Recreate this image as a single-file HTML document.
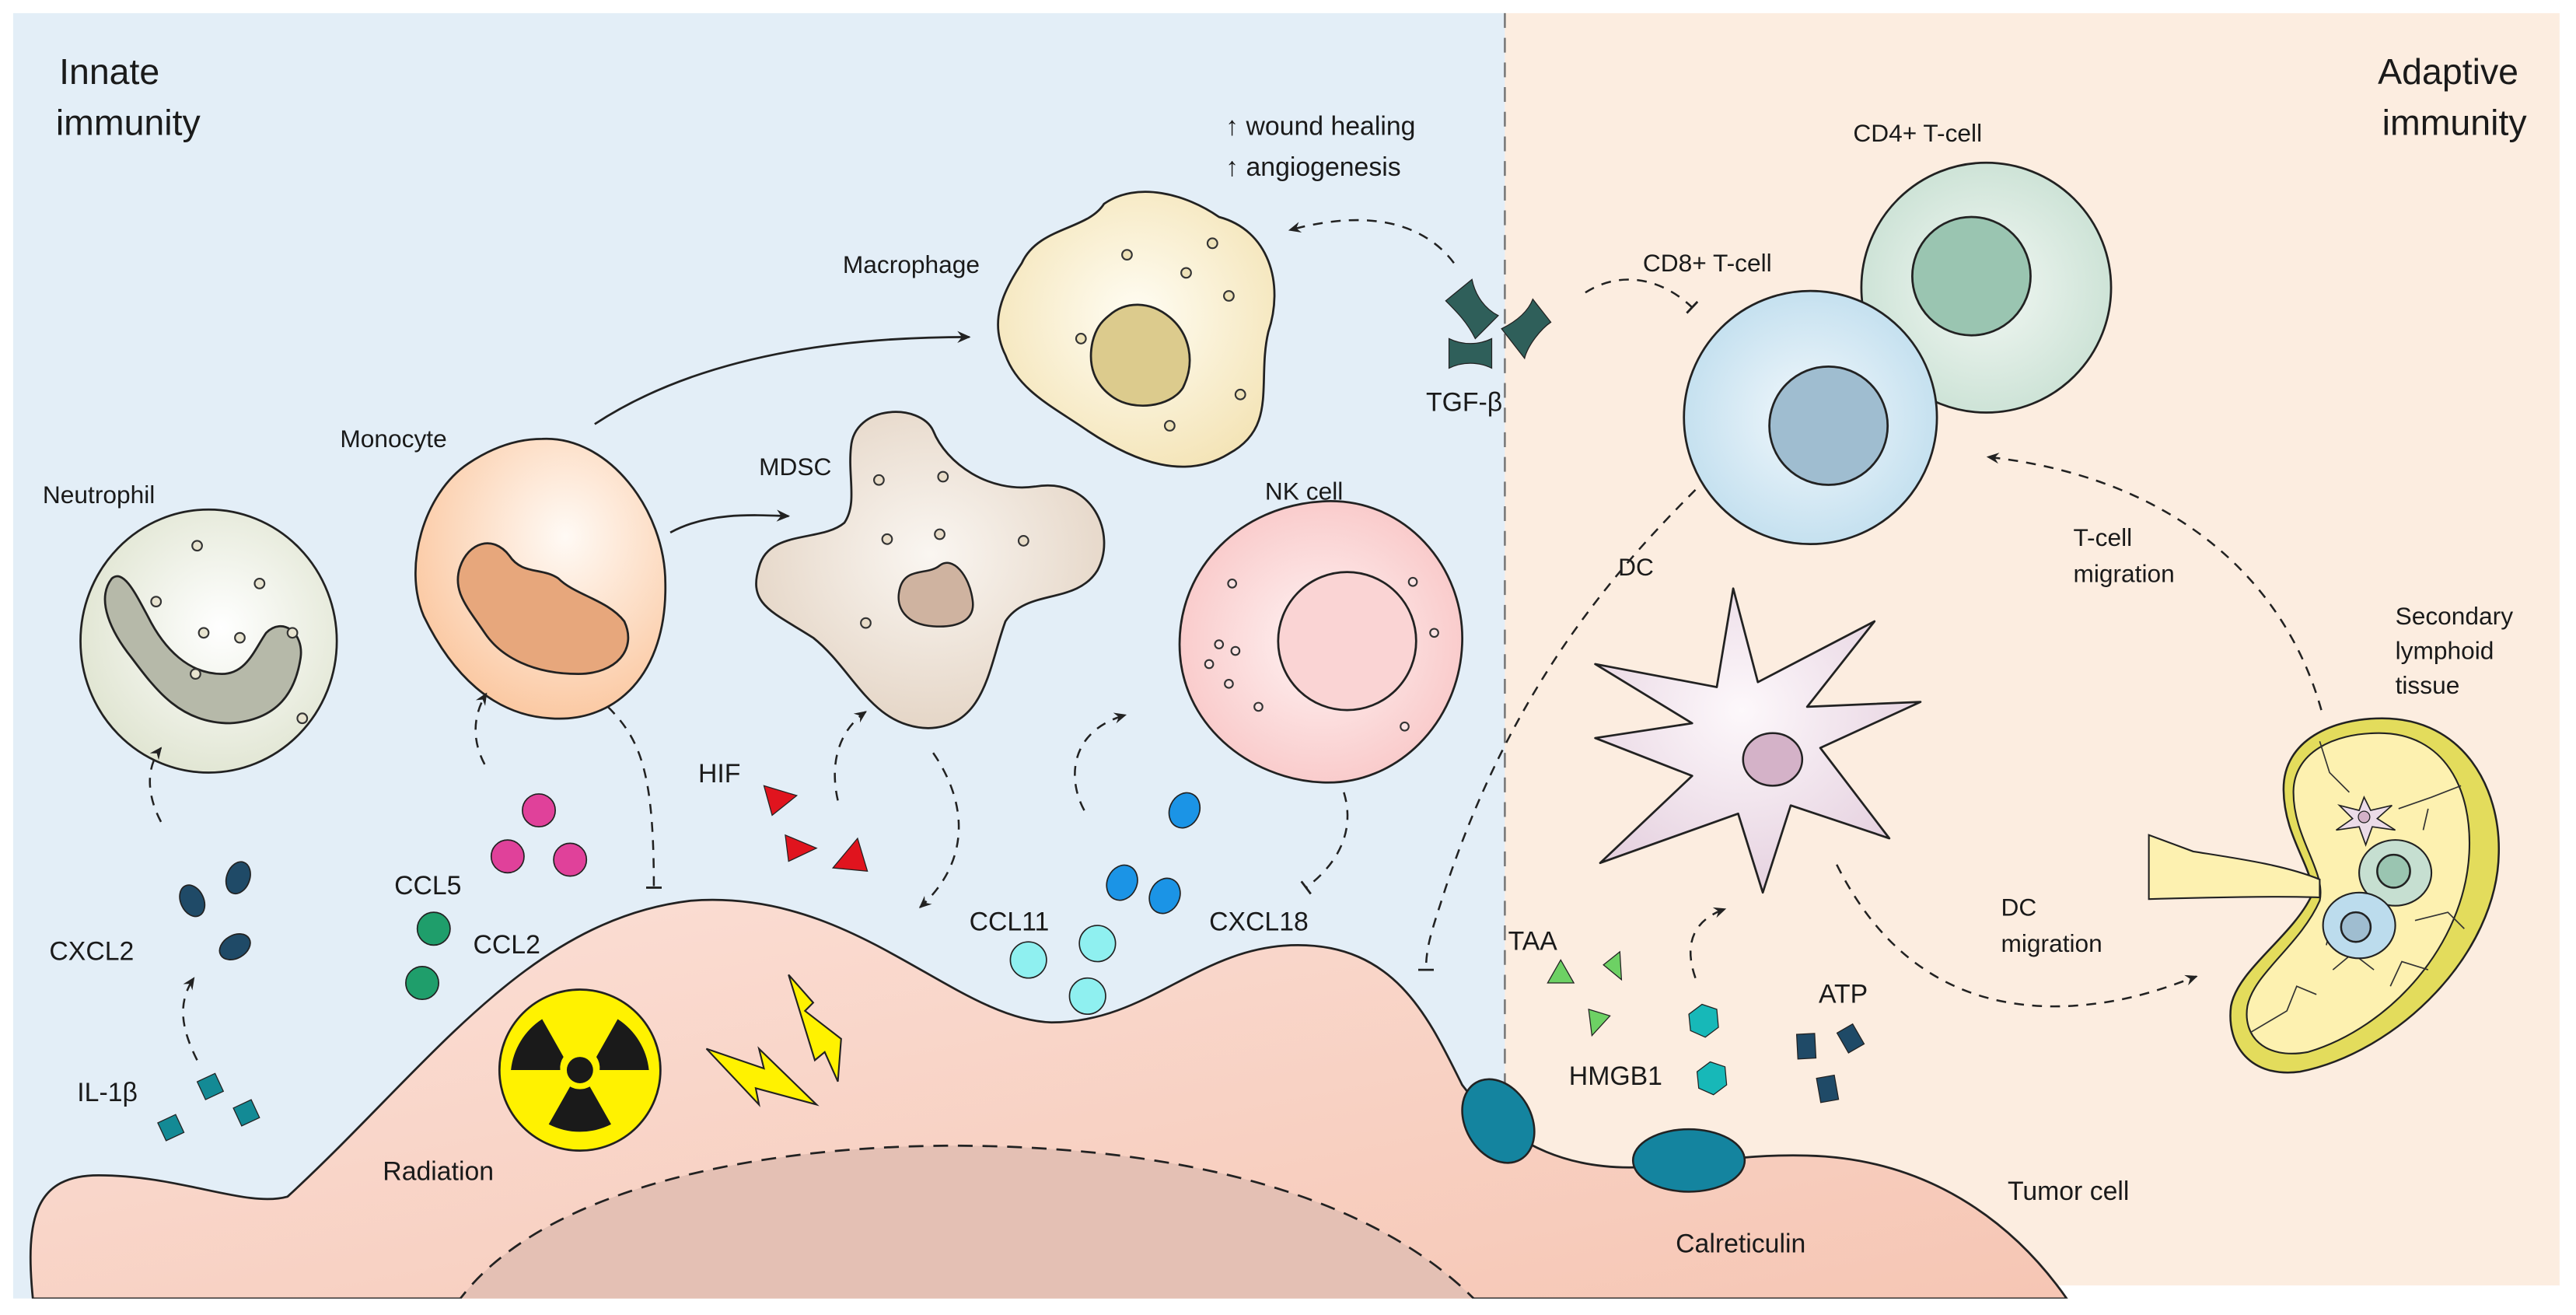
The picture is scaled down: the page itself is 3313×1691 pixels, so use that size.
<!DOCTYPE html>
<html><head><meta charset="utf-8"><style>
html,body{margin:0;padding:0;background:#fff;}
svg{display:block;}
text{font-family:"Liberation Sans",sans-serif;fill:#1a1a1a;}
</style></head><body>
<svg width="3313" height="1691" viewBox="0 0 1568 800" preserveAspectRatio="none" xmlns="http://www.w3.org/2000/svg">
<defs>
<radialGradient id="gNeu" cx="0.55" cy="0.45" r="0.6"><stop offset="0" stop-color="#ffffff"/><stop offset="1" stop-color="#dfe4d0"/></radialGradient>
<radialGradient id="gMono" cx="0.6" cy="0.35" r="0.65"><stop offset="0" stop-color="#fffaf5"/><stop offset="1" stop-color="#fbc9a3"/></radialGradient>
<radialGradient id="gMdsc" cx="0.5" cy="0.45" r="0.6"><stop offset="0" stop-color="#faf6f1"/><stop offset="1" stop-color="#e3d3c3"/></radialGradient>
<radialGradient id="gMac" cx="0.5" cy="0.45" r="0.6"><stop offset="0" stop-color="#fffdf3"/><stop offset="1" stop-color="#f4e4b7"/></radialGradient>
<radialGradient id="gNK" cx="0.5" cy="0.5" r="0.6"><stop offset="0" stop-color="#fff3f3"/><stop offset="1" stop-color="#f8c4c4"/></radialGradient>
<radialGradient id="gCD4" cx="0.5" cy="0.5" r="0.6"><stop offset="0" stop-color="#f3f8f4"/><stop offset="1" stop-color="#c6dfd1"/></radialGradient>
<radialGradient id="gCD8" cx="0.5" cy="0.5" r="0.6"><stop offset="0" stop-color="#f2f8fc"/><stop offset="1" stop-color="#bcdced"/></radialGradient>
<radialGradient id="gDC" cx="0.45" cy="0.4" r="0.6"><stop offset="0" stop-color="#fdf8fb"/><stop offset="1" stop-color="#e6d2e0"/></radialGradient>
<linearGradient id="gTum" x1="0" y1="0" x2="1" y2="1"><stop offset="0" stop-color="#fbe0d7"/><stop offset="1" stop-color="#f6c6b4"/></linearGradient>
<marker id="ah" viewBox="0 0 10 10" refX="8" refY="5" markerWidth="7" markerHeight="7" orient="auto"><path d="M0,1 L9,5 L0,9 L3,5 Z" fill="#222"/></marker>
<marker id="tb" viewBox="0 0 10 10" refX="5" refY="5" markerWidth="8" markerHeight="8" orient="auto"><path d="M5,0 L5,10" stroke="#222" stroke-width="1.4"/></marker>
</defs>

<rect x="8" y="8" width="908" height="782" fill="#e3eef7"/>
<rect x="916" y="8" width="642" height="774" fill="#fcede0"/>
<line x1="916" y1="8" x2="916" y2="660" stroke="#777" stroke-width="1.2" stroke-dasharray="9,6"/>

<path d="M 20 790 C 15 740, 22 715, 60 715 C 110 715, 150 735, 175 728 C 260 650, 320 560, 420 548 C 520 540, 580 620, 640 622 C 700 622, 730 575, 790 575 C 850 575, 870 620, 890 660 C 920 700, 960 712, 1000 710 C 1040 708, 1060 702, 1100 703 C 1180 705, 1230 750, 1258 790 Z" fill="url(#gTum)" stroke="#222" stroke-width="1.3"/>
<path d="M 278 793 C 330 720, 470 697, 580 697 C 700 697, 830 720, 900 793 Z" fill="#e4c0b4"/>
<path d="M 278 793 C 330 720, 470 697, 580 697 C 700 697, 830 720, 900 793" fill="none" stroke="#222" stroke-width="1.3" stroke-dasharray="9,6"/>
<rect x="0" y="790" width="1568" height="10" fill="#fff"/>

<ellipse cx="912" cy="682" rx="20" ry="27" transform="rotate(-30 912 682)" fill="#14849f" stroke="#222" stroke-width="1.2"/>
<ellipse cx="1028" cy="706" rx="34" ry="19" fill="#14849f" stroke="#222" stroke-width="1.2"/>

<text x="36" y="51" font-size="22">Innate</text>
<text x="34" y="82" font-size="22">immunity</text>
<text x="1533" y="51" font-size="22" text-anchor="end">Adaptive</text>
<text x="1538" y="82" font-size="22" text-anchor="end">immunity</text>

<text x="746" y="82" font-size="16">↑ wound healing</text>
<text x="746" y="107" font-size="16">↑ angiogenesis</text>

<text x="26" y="306" font-size="15">Neutrophil</text>
<ellipse cx="127" cy="390" rx="78" ry="80" fill="url(#gNeu)" stroke="#222" stroke-width="1.3"/>
<path d="M 68 352 C 58 365, 68 385, 80 400 C 95 420, 110 440, 140 440 C 170 438, 180 420, 183 400 C 185 385, 172 375, 162 385 C 155 395, 150 410, 135 410 C 115 410, 100 395, 90 375 C 82 360, 75 346, 68 352 Z" fill="#b6b9a9" stroke="#222" stroke-width="1.3"/>
<g fill="#e8e4d0" stroke="#333" stroke-width="1"><circle cx="120" cy="332" r="3"/><circle cx="158" cy="355" r="3"/><circle cx="95" cy="366" r="3"/><circle cx="124" cy="385" r="3"/><circle cx="146" cy="388" r="3"/><circle cx="178" cy="385" r="3"/><circle cx="119" cy="410" r="3"/><circle cx="184" cy="437" r="3"/></g>

<text x="207" y="272" font-size="15">Monocyte</text>
<path d="M 330 267 C 370 265, 405 310, 405 355 C 406 410, 375 440, 335 437 C 300 435, 275 410, 258 375 C 245 345, 258 300, 285 282 C 300 272, 315 267, 330 267 Z" fill="url(#gMono)" stroke="#222" stroke-width="1.3"/>
<path d="M 280 345 C 285 330, 300 325, 310 338 C 318 350, 330 345, 340 352 C 350 362, 370 365, 380 378 C 388 395, 375 410, 352 410 C 325 410, 305 400, 295 385 C 285 370, 275 360, 280 345 Z" fill="#e7a77c" stroke="#222" stroke-width="1.3"/>

<text x="462" y="289" font-size="15">MDSC</text>
<path d="M 518 272 C 520 246, 560 245, 568 262 C 576 282, 602 300, 630 296 C 665 290, 680 325, 668 347 C 655 368, 625 358, 612 378 C 602 405, 600 442, 565 443 C 530 442, 520 408, 495 388 C 470 372, 455 368, 462 345 C 468 322, 500 330, 514 318 C 522 306, 516 290, 518 272 Z" fill="url(#gMdsc)" stroke="#222" stroke-width="1.3"/>
<path d="M 548 357 C 552 345, 565 350, 572 344 C 580 338, 590 350, 592 365 C 594 378, 582 382, 568 381 C 552 380, 544 370, 548 357 Z" fill="#cfb3a0" stroke="#222" stroke-width="1.2"/>
<g fill="#e8dcc8" stroke="#333" stroke-width="1"><circle cx="535" cy="292" r="3"/><circle cx="574" cy="290" r="3"/><circle cx="540" cy="328" r="3"/><circle cx="572" cy="325" r="3"/><circle cx="623" cy="329" r="3"/><circle cx="527" cy="379" r="3"/></g>

<text x="513" y="166" font-size="15">Macrophage</text>
<path d="M 622 160 C 632 138, 662 140, 672 124 C 692 110, 722 118, 742 132 C 772 140, 782 172, 772 202 C 765 232, 778 260, 748 276 C 722 292, 692 282, 662 262 C 642 248, 620 238, 612 216 C 602 196, 610 178, 622 160 Z" fill="url(#gMac)" stroke="#222" stroke-width="1.3"/>
<path d="M 675 192 C 685 183, 700 183, 712 193 C 724 203, 728 220, 720 236 C 712 248, 690 250, 678 242 C 666 234, 662 222, 665 208 C 667 200, 670 196, 675 192 Z" fill="#dccb8d" stroke="#222" stroke-width="1.3"/>
<g fill="#eee2b8" stroke="#333" stroke-width="1"><circle cx="686" cy="155" r="3"/><circle cx="738" cy="148" r="3"/><circle cx="722" cy="166" r="3"/><circle cx="748" cy="180" r="3"/><circle cx="658" cy="206" r="3"/><circle cx="755" cy="240" r="3"/><circle cx="712" cy="259" r="3"/></g>

<text x="770" y="304" font-size="15">NK cell</text>
<path d="M 805 305 C 855 302, 892 345, 890 392 C 888 440, 850 478, 805 476 C 760 474, 718 440, 718 392 C 718 345, 755 308, 805 305 Z" fill="url(#gNK)" stroke="#222" stroke-width="1.3"/>
<circle cx="820" cy="390" r="42" fill="#fad4d4" stroke="#222" stroke-width="1.3"/>
<g fill="#fbe3e3" stroke="#333" stroke-width="1"><circle cx="750" cy="355" r="2.5"/><circle cx="742" cy="392" r="2.5"/><circle cx="736" cy="404" r="2.5"/><circle cx="752" cy="396" r="2.5"/><circle cx="748" cy="416" r="2.5"/><circle cx="766" cy="430" r="2.5"/><circle cx="860" cy="354" r="2.5"/><circle cx="873" cy="385" r="2.5"/><circle cx="855" cy="442" r="2.5"/></g>

<text x="1128" y="86" font-size="15">CD4+ T-cell</text>
<circle cx="1209" cy="175" r="76" fill="url(#gCD4)" stroke="#222" stroke-width="1.3"/>
<circle cx="1200" cy="168" r="36" fill="#9ac5b1" stroke="#222" stroke-width="1.3"/>
<text x="1000" y="165" font-size="15">CD8+ T-cell</text>
<circle cx="1102" cy="254" r="77" fill="url(#gCD8)" stroke="#222" stroke-width="1.3"/>
<circle cx="1113" cy="259" r="36" fill="#9fbdd0" stroke="#222" stroke-width="1.3"/>

<text x="985" y="350" font-size="15">DC</text>
<path d="M 1055 358 L 1070 415 L 1141 378 L 1100 430 L 1169 427 L 1108 455 L 1150 510 L 1090 490 L 1073 543 L 1058 495 L 974 525 L 1030 472 L 971 449 L 1030 440 L 971 404 L 1045 418 Z" fill="url(#gDC)" stroke="#222" stroke-width="1.3" stroke-linejoin="round"/>
<ellipse cx="1079" cy="462" rx="18" ry="16" fill="#d4b2c8" stroke="#222" stroke-width="1.2"/>

<!-- Lymph node -->
<text x="1458" y="380" font-size="15">Secondary</text>
<text x="1458" y="401" font-size="15">lymphoid</text>
<text x="1458" y="422" font-size="15">tissue</text>
<path d="M 1390 480 C 1390 450, 1420 437, 1450 437 C 1500 437, 1522 480, 1521 519 C 1520 580, 1460 640, 1400 652 C 1370 656, 1355 636, 1358 612 C 1362 590, 1395 570, 1407 545 C 1410 530, 1390 510, 1390 480 Z" fill="#e3dc5c" stroke="#222" stroke-width="1.2"/>
<path d="M 1396 482 C 1396 458, 1420 446, 1448 446 C 1488 446, 1505 480, 1503 519 C 1500 575, 1455 625, 1405 640 C 1378 645, 1365 630, 1368 612 C 1372 592, 1400 575, 1412 548 C 1416 530, 1396 510, 1396 482 Z" fill="#fdf1b0" stroke="#222" stroke-width="1"/>
<path d="M 1308 508 L 1335 518 C 1360 522, 1390 526, 1412 535 L 1412 546 C 1390 545, 1340 546, 1308 547 Z" fill="#fdf1b0" stroke="#222" stroke-width="1"/>
<g fill="none" stroke="#333" stroke-width="0.8"><path d="M1412 451 L1418 470 L1430 482"/><path d="M1460 492 L1480 485 L1498 478"/><path d="M1478 492 L1475 505"/><path d="M1420 590 L1432 580 L1445 590"/><path d="M1370 628 L1392 615 L1398 600 L1410 605"/><path d="M1455 600 L1462 585 L1478 590"/><path d="M1470 560 L1490 555 L1500 565"/><path d="M1420 560 L1416 575"/></g>
<path d="M1439 485 L1443 493 L1456 490 L1447 498 L1458 505 L1444 503 L1440 514 L1436 503 L1422 505 L1432 498 L1424 490 L1436 493 Z" fill="#ecdce8" stroke="#222" stroke-width="0.8"/>
<circle cx="1439" cy="497" r="3.5" fill="#d4b2c8" stroke="#222" stroke-width="0.6"/>
<ellipse cx="1458" cy="531" rx="22" ry="20" fill="#c6dfd1" stroke="#222" stroke-width="1"/>
<circle cx="1457" cy="530" r="10" fill="#9ac5b1" stroke="#222" stroke-width="1.2"/>
<ellipse cx="1436" cy="563" rx="22" ry="20" fill="#bcdced" stroke="#222" stroke-width="1"/>
<circle cx="1434" cy="564" r="9" fill="#9fbdd0" stroke="#222" stroke-width="1.2"/>

<path d="M 362 258 C 420 220, 500 205, 590 205" fill="none" stroke="#222" stroke-width="1.3" marker-end="url(#ah)"/>
<path d="M 408 324 C 430 312, 455 313, 480 314" fill="none" stroke="#222" stroke-width="1.3" marker-end="url(#ah)"/>

<g fill="none" stroke="#222" stroke-width="1.2" stroke-dasharray="6,5">
<path d="M 98 500 C 90 485, 88 468, 98 455" marker-end="url(#ah)"/>
<path d="M 120 645 C 110 625, 108 610, 118 595" marker-end="url(#ah)"/>
<path d="M 295 465 C 287 450, 288 435, 296 422" marker-end="url(#ah)"/>
<path d="M 370 430 C 390 450, 398 470, 398 540" marker-end="url(#tb)"/>
<path d="M 510 487 C 505 465, 510 445, 527 433" marker-end="url(#ah)"/>
<path d="M 568 458 C 590 490, 590 525, 560 552" marker-end="url(#ah)"/>
<path d="M 660 493 C 650 475, 650 445, 685 435" marker-end="url(#ah)"/>
<path d="M 818 482 C 825 505, 815 525, 795 540" marker-end="url(#tb)"/>
<path d="M 885 160 C 870 140, 840 125, 785 140" marker-end="url(#ah)"/>
<path d="M 965 178 C 985 165, 1010 168, 1030 187" marker-end="url(#tb)"/>
<path d="M 1032 298 C 980 350, 920 420, 880 540 C 872 565, 868 575, 868 590" marker-end="url(#tb)"/>
<path d="M 1032 595 C 1025 575, 1030 560, 1050 553" marker-end="url(#ah)"/>
<path d="M 1413 432 C 1390 350, 1320 290, 1210 278" marker-end="url(#ah)"/>
<path d="M 1118 526 C 1150 590, 1200 615, 1260 612 C 1295 610, 1318 601, 1337 594" marker-end="url(#ah)"/>
</g>

<text x="1262" y="332" font-size="15">T-cell</text>
<text x="1262" y="354" font-size="15">migration</text>
<text x="1218" y="557" font-size="15">DC</text>
<text x="1218" y="579" font-size="15">migration</text>

<g fill="#2f5f5a" stroke="#222" stroke-width="0.6">
<path d="M 880 183 L 896 170 C 898 180, 904 188, 912 192 L 898 206 C 893 196, 887 190, 880 183 Z"/>
<path d="M 914 200 C 922 196, 930 190, 933 182 L 944 196 C 938 200, 930 210, 928 218 Z"/>
<path d="M 882 206 C 890 210, 900 210, 908 206 L 908 224 C 900 220, 890 220, 882 224 Z"/>
</g>
<text x="868" y="250" font-size="16">TGF-β</text>

<text x="30" y="584" font-size="16">CXCL2</text>
<g fill="#1f4a67" stroke="#222" stroke-width="0.8">
<ellipse cx="117" cy="548" rx="7" ry="10" transform="rotate(-25 117 548)"/>
<ellipse cx="145" cy="534" rx="7" ry="10" transform="rotate(20 145 534)"/>
<ellipse cx="143" cy="576" rx="7" ry="10" transform="rotate(60 143 576)"/>
</g>
<text x="47" y="670" font-size="16">IL-1β</text>
<g fill="#138a95" stroke="#222" stroke-width="0.6">
<rect x="98" y="680" width="12" height="12" transform="rotate(-25 104 686)"/>
<rect x="122" y="655" width="12" height="12" transform="rotate(-25 128 661)"/>
<rect x="144" y="671" width="12" height="12" transform="rotate(-25 150 677)"/>
</g>
<text x="240" y="544" font-size="16">CCL5</text>
<text x="288" y="580" font-size="16">CCL2</text>
<g stroke="#222" stroke-width="0.8">
<circle cx="264" cy="565" r="10" fill="#1f9e6b"/><circle cx="257" cy="598" r="10" fill="#1f9e6b"/>
<circle cx="328" cy="493" r="10" fill="#e0419a"/><circle cx="309" cy="521" r="10" fill="#e0419a"/><circle cx="347" cy="523" r="10" fill="#e0419a"/>
</g>
<text x="425" y="476" font-size="16">HIF</text>
<g fill="#e0141e" stroke="#222" stroke-width="0.6">
<path d="M 465 478 L 485 484 L 470 496 Z"/><path d="M 478 508 L 497 516 L 480 524 Z"/><path d="M 507 528 L 522 510 L 528 530 Z"/>
</g>
<text x="590" y="566" font-size="16">CCL11</text>
<text x="736" y="566" font-size="16">CXCL18</text>
<g stroke="#222" stroke-width="0.8">
<circle cx="626" cy="584" r="11" fill="#8ff0f0"/><circle cx="668" cy="574" r="11" fill="#8ff0f0"/><circle cx="662" cy="606" r="11" fill="#8ff0f0"/>
<ellipse cx="683" cy="537" rx="9" ry="11" fill="#1b94e6" transform="rotate(25 683 537)"/>
<ellipse cx="721" cy="493" rx="9" ry="11" fill="#1b94e6" transform="rotate(25 721 493)"/>
<ellipse cx="709" cy="545" rx="9" ry="11" fill="#1b94e6" transform="rotate(25 709 545)"/>
</g>

<circle cx="353" cy="651" r="49" fill="#fff200" stroke="#222" stroke-width="1.3"/>
<g fill="#1a1a1a">
<path d="M 343 643 L 330 620 A 42 42 0 0 0 311 651 L 341 651 A 12 12 0 0 1 343 643 Z"/>
<path d="M 363 643 L 376 620 A 42 42 0 0 1 395 651 L 365 651 A 12 12 0 0 0 363 643 Z"/>
<path d="M 359 661 L 372 684 A 42 42 0 0 1 334 684 L 347 661 A 12 12 0 0 0 359 661 Z"/>
</g>
<circle cx="353" cy="651" r="8" fill="#1a1a1a"/>
<text x="233" y="718" font-size="16">Radiation</text>
<g fill="#fff200" stroke="#222" stroke-width="1">
<path d="M 430 638 L 465 650 L 462 638 L 497 672 L 460 662 L 462 672 Z"/>
<path d="M 480 593 L 495 610 L 490 615 L 512 632 L 510 658 L 502 640 L 496 645 Z"/>
</g>

<text x="918" y="578" font-size="16">TAA</text>
<g fill="#6dd164" stroke="#222" stroke-width="0.6">
<path d="M 942 598 L 950 584 L 958 598 Z"/><path d="M 976 587 L 986 579 L 987 596 Z"/><path d="M 967 614 L 980 618 L 969 630 Z"/>
</g>
<text x="955" y="660" font-size="16">HMGB1</text>
<g fill="#17b8b8" stroke="#222" stroke-width="0.6">
<path d="M 1028 617 L 1036 611 L 1045 614 L 1046 625 L 1038 631 L 1029 627 Z"/>
<path d="M 1033 652 L 1041 646 L 1050 649 L 1051 660 L 1043 666 L 1034 662 Z"/>
</g>
<text x="1107" y="610" font-size="16">ATP</text>
<g fill="#1f4a67" stroke="#222" stroke-width="0.6">
<rect x="1094" y="629" width="11" height="15" transform="rotate(-3 1099 637)"/>
<rect x="1121" y="625" width="11" height="14" transform="rotate(-30 1126 632)"/>
<rect x="1107" y="655" width="11" height="15" transform="rotate(-10 1112 663)"/>
</g>
<text x="1222" y="730" font-size="16">Tumor cell</text>
<text x="1020" y="762" font-size="16">Calreticulin</text>
</svg>
</body></html>
